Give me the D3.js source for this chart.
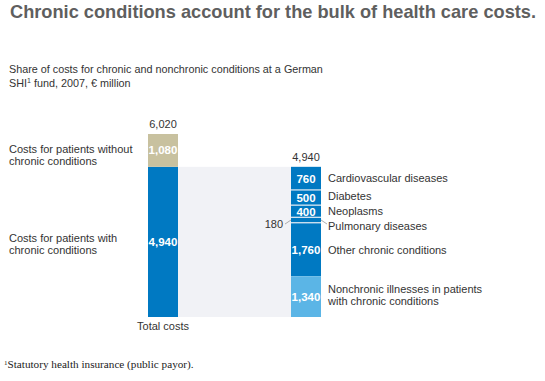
<!DOCTYPE html>
<html><head><meta charset="utf-8">
<script src="https://cdn.jsdelivr.net/npm/d3@7"></script>
<style>
body{margin:0;background:#fff;}
text{font-family:"Liberation Sans",Arial,Helvetica,sans-serif;}
</style></head>
<body><svg id="c" width="545" height="381"></svg>
<script>
const totalCategories = ["Costs for patients without chronic conditions", "Costs for patients with chronic conditions"];
const totalValues = [1080, 4940];
const totalColors = ["#c8c19f", "#0079c2"];
const totalLabel = "6,020";
const chronicCategories = ["Cardiovascular diseases", "Diabetes", "Neoplasms", "Pulmonary diseases", "Other chronic conditions", "Nonchronic illnesses in patients with chronic conditions"];
const chronicValues = [760, 500, 400, 180, 1760, 1340];
const chronicValueLabels = ["760", "500", "400", "180", "1,760", "1,340"];
const chronicLabel = "4,940";
const bars = ["Total costs", "Chronic"];

const svg = d3.select("#c");
const y = d3.scaleLinear().domain([0, 6020]).range([317, 134]);
const x = d3.scaleOrdinal().domain(bars).range([148, 291]);
const bw = 30;

svg.append("text").attr("x", 10).attr("y", 18).attr("font-size", 18.5).attr("font-weight", "bold")
  .attr("fill", "#5f5f5f").attr("textLength", 526).attr("lengthAdjust", "spacingAndGlyphs")
  .text("Chronic conditions account for the bulk of health care costs.");
svg.append("text").attr("x", 9).attr("y", 73).attr("font-size", 10.8).attr("fill", "#333")
  .text("Share of costs for chronic and nonchronic conditions at a German");
const st = svg.append("text").attr("x", 9).attr("y", 87).attr("font-size", 10.8).attr("fill", "#333");
st.append("tspan").text("SHI");
st.append("tspan").attr("font-size", 7).attr("dy", -4).text("1");
st.append("tspan").attr("dy", 4).text(" fund, 2007, € million");

// background band
const chronicTotal = d3.sum(chronicValues);
svg.append("rect").attr("x", x("Total costs") + bw).attr("y", y(chronicTotal))
  .attr("width", x("Chronic") - x("Total costs") - bw).attr("height", y(0) - y(chronicTotal))
  .attr("fill", "#f1f2f6");

// total bar: stack with chronic at bottom
const totStack = [];
let acc = 0;
[1, 0].forEach(i => { totStack.push({i, y0: acc, y1: acc + totalValues[i]}); acc += totalValues[i]; });
svg.selectAll(".tb").data(totStack).enter().append("rect")
  .attr("x", x("Total costs")).attr("width", bw)
  .attr("y", d => y(d.y1)).attr("height", d => y(d.y0) - y(d.y1))
  .attr("fill", d => totalColors[d.i]);
svg.selectAll(".tl").data(totStack).enter().append("text")
  .attr("x", x("Total costs") + bw / 2).attr("y", d => (y(d.y0) + y(d.y1)) / 2 + 4)
  .attr("text-anchor", "middle").attr("font-size", 11.5).attr("font-weight", "bold").attr("fill", "#fff")
  .text(d => d3.format(",")(totalValues[d.i]));
svg.append("text").attr("x", x("Total costs") + bw / 2).attr("y", y(acc) - 6).attr("text-anchor", "middle")
  .attr("font-size", 11).attr("fill", "#333").text(totalLabel);
svg.append("text").attr("x", x("Total costs") + bw / 2).attr("y", 330).attr("text-anchor", "middle")
  .attr("font-size", 11).attr("fill", "#333").text("Total costs");

// left labels
const leftLines = [["Costs for patients without", "chronic conditions"], ["Costs for patients with", "chronic conditions"]];
const leftY = [153, 242];
leftLines.forEach((ls, i) => {
  const t = svg.append("text").attr("x", 9).attr("y", leftY[i]).attr("font-size", 11).attr("fill", "#333");
  ls.forEach((l, j) => t.append("tspan").attr("x", 9).attr("dy", j ? 12 : 0).text(l));
});

// chronic bar: top-down
const chStack = [];
let runTop = chronicTotal;
chronicValues.forEach((v, i) => { chStack.push({i, y1: runTop, y0: runTop - v}); runTop -= v; });
const chColors = ["#0079c2", "#0079c2", "#0079c2", "#0079c2", "#0079c2", "#5bb5e6"];
svg.selectAll(".cb").data(chStack).enter().append("rect")
  .attr("x", x("Chronic")).attr("width", bw)
  .attr("y", d => y(d.y1)).attr("height", d => y(d.y0) - y(d.y1))
  .attr("fill", d => chColors[d.i]);
// separators
svg.selectAll(".sep").data(chStack.slice(1, 5)).enter().append("line")
  .attr("x1", x("Chronic")).attr("x2", x("Chronic") + bw)
  .attr("y1", d => y(d.y1)).attr("y2", d => y(d.y1))
  .attr("stroke", "#e8eef5").attr("stroke-width", 1.2);
svg.selectAll(".cl").data(chStack.filter(d => d.i !== 3)).enter().append("text")
  .attr("x", x("Chronic") + bw / 2).attr("y", d => (y(d.y0) + y(d.y1)) / 2 + 4.5)
  .attr("text-anchor", "middle").attr("font-size", 11.5).attr("font-weight", "bold").attr("fill", "#fff")
  .text(d => chronicValueLabels[d.i]);
svg.append("text").attr("x", x("Chronic") + bw / 2).attr("y", y(chronicTotal) - 6).attr("text-anchor", "middle")
  .attr("font-size", 11).attr("fill", "#333").text(chronicLabel);

// 180 outside label
const pul = chStack[3];
const pmid = (y(pul.y0) + y(pul.y1)) / 2;
svg.append("text").attr("x", x("Chronic") - 8).attr("y", pmid + 8).attr("text-anchor", "end")
  .attr("font-size", 11).attr("fill", "#333").text(chronicValueLabels[3]);
svg.append("line").attr("x1", x("Chronic") - 6).attr("y1", pmid + 4).attr("x2", x("Chronic")).attr("y2", pmid)
  .attr("stroke", "#999").attr("stroke-width", 0.8);
svg.append("line").attr("x1", x("Chronic") + bw).attr("y1", pmid).attr("x2", x("Chronic") + bw + 6).attr("y2", pmid + 4)
  .attr("stroke", "#999").attr("stroke-width", 0.8);

// right labels
const rightY = [182, 200, 215, 230, 254, 293];
const rightLines = [["Cardiovascular diseases"], ["Diabetes"], ["Neoplasms"], ["Pulmonary diseases"], ["Other chronic conditions"], ["Nonchronic illnesses in patients", "with chronic conditions"]];
rightLines.forEach((ls, i) => {
  const t = svg.append("text").attr("x", 328).attr("y", rightY[i]).attr("font-size", 11).attr("fill", "#333");
  ls.forEach((l, j) => t.append("tspan").attr("x", 328).attr("dy", j ? 11.5 : 0).text(l));
});

// footnote
const fn = svg.append("text").attr("x", 4).attr("y", 368).attr("font-size", 11.2).attr("fill", "#222")
  .style("font-family", "'Liberation Serif','DejaVu Serif',serif");
fn.append("tspan").attr("font-size", 7).attr("dy", -3).text("1");
fn.append("tspan").attr("dy", 3).text("Statutory health insurance (public payor).");
</script></body></html>
